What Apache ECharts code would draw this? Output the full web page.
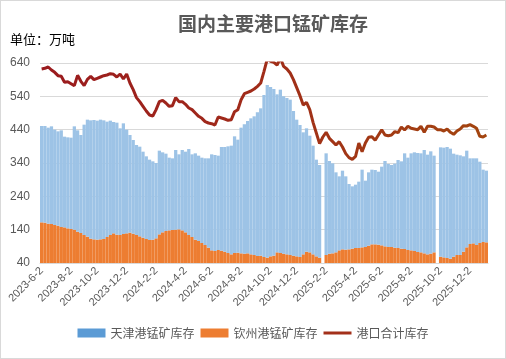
<!DOCTYPE html>
<html><head><meta charset="utf-8">
<script src="https://cdn.jsdelivr.net/npm/echarts@6/dist/echarts.min.js"></script>
<style>html,body{margin:0;padding:0;background:#fff}#c{width:504px;height:357px;border:1px solid #d9d9d9}</style>
</head><body><div id="c"></div>
<script>
var startDate = '2023-6-2';
var weekCount = 137;
var tickLabels = ['2023-6-2','2023-8-2','2023-10-2','2023-12-2','2024-2-2','2024-4-2','2024-6-2','2024-8-2','2024-10-2','2024-12-2','2025-2-2','2025-4-2','2025-6-2','2025-8-2','2025-10-2','2025-12-2'];
var tianjin = [289,290,288,293,286,283,290,272,273,274,310,304,294,331,351,355,358,357,359,356,346,343,334,336,320,332,311,293,281,270,269,258,248,241,235,226,251,240,232,218,215,239,225,241,242,258,248,259,256,256,260,268,288,288,283,311,314,320,326,350,339,377,388,397,408,416,431,442,486,518,508,500,474,490,472,469,466,434,410,396,366,370,350,326,290,278,null,305,278,270,240,222,236,220,196,187,190,199,233,199,220,224,223,219,236,256,249,246,252,264,262,287,277,291,296,297,297,310,299,307,290,null,328,329,333,330,309,301,299,286,290,257,255,260,244,217,215];
var qinzhou = [162,161,158,157,154,152,148,147,144,142,140,134,130,124,119,113,111,110,111,112,118,124,129,125,124,127,129,131,128,124,120,116,112,109,110,114,126,132,136,138,139,140,141,138,132,124,118,110,106,100,94,86,78,76,79,77,74,70,66,70,71,69,68,69,66,64,61,62,58,56,60,62,72,70,68,66,64,62,60,58,66,74,72,66,60,56,null,64,68,69,72,78,81,80,81,83,85,85,87,88,92,96,96,95,93,90,88,88,86,85,83,82,79,78,76,73,72,69,66,68,72,null,59,57,55,53,59,64,64,74,87,97,99,94,100,103,102];
var portTotal = [622,624,628,619,612,602,600,582,584,578,572,603,585,572,591,600,590,594,598,602,604,608,606,598,607,592,607,580,560,536,524,510,496,484,481,500,524,528,520,510,512,536,524,524,516,505,500,490,480,474,464,460,458,454,478,475,472,468,470,494,500,530,548,552,556,562,570,580,615,652,645,642,634,655,630,622,610,590,566,542,514,522,500,462,430,398,418,432,414,404,394,404,388,368,356,351,360,400,374,400,417,419,408,424,440,424,422,424,434,431,448,439,450,444,442,440,450,432,450,450,448,440,440,436,442,432,426,436,442,452,451,455,450,444,420,418,424];

function parseD(s){var p=s.split('-');return new Date(+p[0],+p[1]-1,+p[2]);}
var categories=[];var catTimes=[];
var d0=parseD(startDate);
for(var i=0;i<weekCount;i++){var d=new Date(d0.getFullYear(),d0.getMonth(),d0.getDate()+7*i);categories.push(d.getFullYear()+'-'+(d.getMonth()+1)+'-'+d.getDate());catTimes.push(d.getTime());}
var labelAt={};
tickLabels.forEach(function(t){var tt=parseD(t).getTime();var best=0,bd=Infinity;for(var i=0;i<catTimes.length;i++){var dd=Math.abs(catTimes[i]-tt);if(dd<bd){bd=dd;best=i;}}labelAt[best]=t;});

var chart=echarts.init(document.getElementById('c'),null,{renderer:'canvas'});
var txt='#595959';
var lineGrad=new echarts.graphic.LinearGradient(0,0,1,0,[{offset:0,color:'#9A1A1E'},{offset:0.45,color:'#A02A1A'},{offset:1,color:'#A3450F'}]);
chart.setOption({
  animation:false,
  title:{text:'国内主要港口锰矿库存',left:172,top:8,textStyle:{fontSize:19,fontWeight:'bold',color:txt,fontFamily:'Noto Sans CJK SC'}},
  graphic:[{type:'text',left:9,top:32,style:{text:'单位：万吨',fontSize:13,fill:'#000',fontFamily:'Noto Sans CJK SC'}}],
  grid:{left:39,right:17,top:62,bottom:95,containLabel:false},
  legend:{bottom:14,left:'center',itemWidth:28,itemHeight:9,itemGap:6,textStyle:{fontSize:12,color:txt,fontFamily:'Noto Sans CJK SC'},
    data:[{name:'天津港锰矿库存',icon:'rect',itemStyle:{color:'#5B9BD5'}},{name:'钦州港锰矿库存',icon:'rect',itemStyle:{color:'#ED7D31'}},{name:'港口合计库存',icon:'path://M0,0 L28,0 L28,3 L0,3 Z',itemStyle:{color:'#A3301A'}}]},
  xAxis:{type:'category',data:categories,boundaryGap:true,
    axisLine:{lineStyle:{color:'#d9d9d9'}},axisTick:{show:false},
    axisLabel:{rotate:45,margin:6,fontSize:11,color:txt,fontFamily:'Liberation Sans',interval:function(idx){return labelAt[idx]!==undefined;},formatter:function(v,idx){return labelAt[idx]||'';}}},
  yAxis:{type:'value',min:40,max:640,interval:100,
    axisLine:{show:false},axisTick:{show:false},
    axisLabel:{fontSize:12,color:txt,margin:10,fontFamily:'Liberation Sans'},
    splitLine:{lineStyle:{color:'#d9d9d9'}}},
  series:[
    {name:'钦州港锰矿库存',type:'bar',stack:'s',data:qinzhou,barCategoryGap:'0%',itemStyle:{color:'#ED7D31'}},
    {name:'天津港锰矿库存',type:'bar',stack:'s',data:tianjin,barCategoryGap:'0%',itemStyle:{color:'#9DC3E6'}},
    {name:'港口合计库存',type:'line',data:portTotal,symbol:'none',showSymbol:false,connectNulls:true,
      lineStyle:{width:3,color:lineGrad},
      itemStyle:{color:'#A3301A'}}
  ]
});
</script></body></html>
